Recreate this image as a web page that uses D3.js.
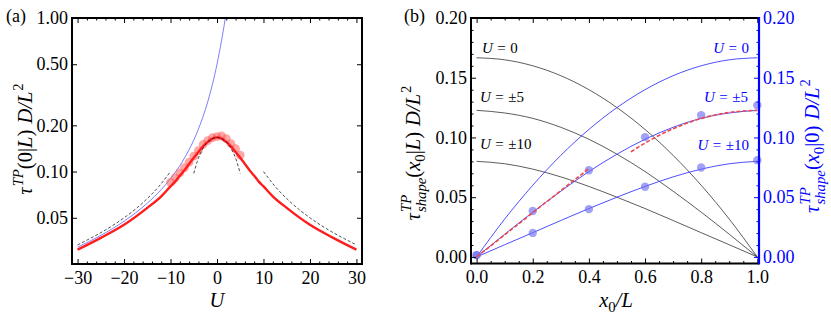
<!DOCTYPE html>
<html>
<head>
<meta charset="utf-8">
<script src="https://cdn.jsdelivr.net/npm/d3@7"></script>
<style>
  body { margin: 0; background: #fff; }
  svg { display: block; }
  text { font-family: "Liberation Serif", "Times New Roman", serif; }
</style>
</head>
<body>
<svg id="chart" width="831" height="320"></svg>
<script>
// ---- panel (a): tau^TP(0|L) vs U ----
const uRed = [-30, -25, -20, -15, -12, -10, -9, -8, -7, -6, -5, -4, -3, -2, -1, 0, 1, 2, 3, 4, 5, 6, 7, 8, 9, 10, 12, 15, 20, 25, 30];
const tauRed = [0.031, 0.037, 0.045, 0.058, 0.069, 0.080, 0.086, 0.094, 0.102, 0.112, 0.123, 0.134, 0.146, 0.156, 0.164, 0.167,
                0.164, 0.156, 0.146, 0.134, 0.123, 0.112, 0.102, 0.094, 0.086, 0.080, 0.069, 0.058, 0.045, 0.037, 0.031];
const uBlue = [-30, -25, -20, -15, -12, -10, -9, -8, -7, -6, -5, -4, -3, -2, -1, -0.5, 0, 0.5, 1, 1.5, 1.8];
const tauBlue = [0.0322, 0.0384, 0.0475, 0.0622, 0.0764, 0.090, 0.0988, 0.109, 0.1225, 0.139, 0.160, 0.189, 0.228, 0.284, 0.368, 0.426, 0.5, 0.595, 0.718, 0.881, 1.003];
const uDots = [-10, -9, -8, -7, -6, -5, -4, -3, -2, -1, 0, 1, 2, 3, 4, 5];
const tauDots = [0.085, 0.091, 0.098, 0.106, 0.115, 0.126, 0.137, 0.150, 0.159, 0.166, 0.169, 0.171, 0.164, 0.152, 0.141, 0.128];
const uAsymL = [-30, -27.5, -25, -22.5, -20, -17.5, -15, -12.5, -10];
const tauAsymL = [0.0333, 0.0364, 0.040, 0.0444, 0.050, 0.0571, 0.0667, 0.080, 0.100];
const uAsymR = [10, 12.5, 15, 17.5, 20, 22.5, 25, 27.5, 30];
const tauAsymR = [0.100, 0.080, 0.0667, 0.0571, 0.050, 0.0444, 0.040, 0.0364, 0.0333];
const uSmall = [-5, -4, -3, -2, -1, 0, 1, 2, 3, 4, 5];
const tauSmall = [0.0972, 0.1222, 0.1417, 0.1556, 0.1639, 0.1667, 0.1639, 0.1556, 0.1417, 0.1222, 0.0972];
const xTicksA = [-30, -20, -10, 0, 10, 20, 30];
const yTicksA = [0.05, 0.1, 0.2, 0.5, 1];

// ---- panel (b): shape functions vs x0/L ----
const x0 = [0, 0.1, 0.2, 0.3, 0.4, 0.5, 0.6, 0.7, 0.8, 0.9, 1];
const blackU0 = [0.1667, 0.165, 0.160, 0.1517, 0.140, 0.125, 0.1067, 0.085, 0.060, 0.0317, 0];
const blackU5 = [0.1227, 0.1205, 0.116, 0.1085, 0.0985, 0.086, 0.0715, 0.055, 0.0375, 0.019, 0];
const blackU10 = [0.080, 0.078, 0.0735, 0.067, 0.059, 0.050, 0.0405, 0.0305, 0.0203, 0.0102, 0];
const blueU0 = [0, 0.0317, 0.060, 0.085, 0.1067, 0.125, 0.140, 0.1517, 0.160, 0.165, 0.1667];
const blueU5 = [0, 0.019, 0.0375, 0.055, 0.0715, 0.086, 0.0985, 0.1085, 0.116, 0.1205, 0.1227];
const blueU10 = [0, 0.0102, 0.0203, 0.0305, 0.0405, 0.050, 0.059, 0.067, 0.0735, 0.078, 0.080];
const xDots = [0, 0.2, 0.4, 0.6, 0.8, 1];
const dotsU5 = [0.0015, 0.0385, 0.0726, 0.1003, 0.1187, 0.127];
const dotsU10 = [0.0015, 0.0201, 0.040, 0.0587, 0.0749, 0.081];
const xRedLo = [0, 0.1, 0.2, 0.3, 0.4];
const redLo = [0, 0.0185, 0.037, 0.0555, 0.074];
const xRedHi = [0.55, 0.6, 0.7, 0.8, 0.9, 1];
const redHi = [0.088, 0.0953, 0.1073, 0.1159, 0.121, 0.1227];
const xTicksB = [0, 0.2, 0.4, 0.6, 0.8, 1];
const yTicksB = [0, 0.05, 0.1, 0.15, 0.2];

const svg = d3.select('#chart');
const FS = 18;   // tick labels
const LS = 20.5; // axis titles

// lay out italic / sub / superscript runs as separate text pieces
function rich(parent, runs, x, y, opts) {
  const g = parent.append('g')
    .attr('transform', `translate(${x},${y})` + (opts.rotate ? ` rotate(${opts.rotate})` : ''));
  let cx = 0, lastStart = 0, lastEnd = 0;
  runs.forEach(r => {
    const t = g.append('text').text(r.t)
      .attr('font-size', (r.s || 1) * opts.size)
      .attr('font-style', r.i ? 'italic' : 'normal')
      .attr('fill', opts.fill || '#000')
      .attr('y', (r.dy || 0) * opts.size);
    const start = r.stack ? lastStart : cx;
    t.attr('x', start);
    const w = t.node().getComputedTextLength();
    if (r.stack) {
      cx = Math.max(lastEnd, start + w) + (r.gap || 0) * opts.size;
    } else {
      lastStart = start; lastEnd = start + w;
      cx = start + w + (r.gap || 0) * opts.size;
    }
  });
  const shift = opts.anchor === 'middle' ? -cx / 2 : opts.anchor === 'end' ? -cx : 0;
  g.selectAll('text').attr('x', function () { return +this.getAttribute('x') + shift; });
  return g;
}

function styleAxis(sel, color, fs) {
  sel.select('.domain').remove();
  sel.selectAll('line').attr('stroke', color).attr('stroke-width', 1);
  sel.selectAll('text').attr('fill', color).attr('font-size', fs)
    .attr('font-family', '"Liberation Serif", serif');
}

// ================= panel (a) =================
const xA = d3.scaleLinear().domain([-31.2, 31.2]).range([72, 362]);
const yA = d3.scaleLog().domain([0.025, 1]).range([264, 18]);
const minorA = d3.range(-30, 31, 2).filter(v => v % 10 !== 0);

svg.append('clipPath').attr('id', 'clipA').append('rect')
  .attr('x', 72).attr('y', 18).attr('width', 290).attr('height', 246);

const lineA = (us, vs) => d3.line().x((d, i) => xA(us[i])).y(d => yA(d)).curve(d3.curveMonotoneX)(vs);

const gA = svg.append('g').attr('clip-path', 'url(#clipA)');
gA.append('path').attr('d', lineA(uBlue, tauBlue)).attr('fill', 'none')
  .attr('stroke', '#6f6fff').attr('stroke-width', 0.9);
gA.selectAll('circle.dA').data(tauDots).join('circle')
  .attr('cx', (d, i) => xA(uDots[i])).attr('cy', d => yA(d)).attr('r', 4.4)
  .attr('fill', 'rgba(255,80,80,0.5)');
gA.append('path').attr('d', lineA(uRed, tauRed)).attr('fill', 'none')
  .attr('stroke', '#ff1c1c').attr('stroke-width', 2.4);
[[uAsymL, tauAsymL], [uAsymR, tauAsymR], [uSmall, tauSmall]].forEach(([us, vs]) => {
  gA.append('path').attr('d', lineA(us, vs)).attr('fill', 'none')
    .attr('stroke', '#222').attr('stroke-width', 0.8).attr('stroke-dasharray', '3,2');
});

// ticks (inward, mirrored)
styleAxis(svg.append('g').attr('transform', 'translate(0,264)')
  .call(d3.axisBottom(xA).tickValues(xTicksA).tickSize(-5).tickPadding(7)
    .tickFormat(d => d < 0 ? '\u2212' + (-d) : d)), '#000', FS);
styleAxis(svg.append('g').attr('transform', 'translate(0,264)')
  .call(d3.axisBottom(xA).tickValues(minorA).tickSize(-2.5).tickFormat('')), '#000', FS);
styleAxis(svg.append('g').attr('transform', 'translate(0,18)')
  .call(d3.axisTop(xA).tickValues(xTicksA).tickSize(-5).tickFormat('')), '#000', FS);
styleAxis(svg.append('g').attr('transform', 'translate(0,18)')
  .call(d3.axisTop(xA).tickValues(minorA).tickSize(-2.5).tickFormat('')), '#000', FS);
styleAxis(svg.append('g').attr('transform', 'translate(72,0)')
  .call(d3.axisLeft(yA).tickValues(yTicksA).tickSize(-5).tickPadding(4).tickFormat(d3.format('.2f'))), '#000', FS);
styleAxis(svg.append('g').attr('transform', 'translate(362,0)')
  .call(d3.axisRight(yA).tickValues(yTicksA).tickSize(-5).tickFormat('')), '#000', FS);

svg.append('rect').attr('x', 72).attr('y', 18).attr('width', 290).attr('height', 246)
  .attr('fill', 'none').attr('stroke', '#000').attr('stroke-width', 2);

rich(svg, [{ t: 'U', i: 1 }], 217, 307, { size: LS, anchor: 'middle' });
rich(svg, [
  { t: 'τ', i: 1, gap: 0.05 }, { t: 'TP', i: 1, s: 0.72, dy: -0.45 }, { t: '(0|' }, { t: 'L', i: 1 }, { t: ')', gap: 0.3 },
  { t: 'D', i: 1 }, { t: '/', i: 1 }, { t: 'L', i: 1, gap: 0.05 }, { t: '2', s: 0.72, dy: -0.45 }
], 32, 139, { size: LS, anchor: 'middle', rotate: -90 });
svg.append('text').text('(a)').attr('x', 6).attr('y', 22).attr('font-size', FS);

// ================= panel (b) =================
const xB = d3.scaleLinear().domain([-0.02, 1.006]).range([471, 759]);
const yB = d3.scaleLinear().domain([-0.0055, 0.2]).range([263.5, 18]);
const lineB = (xs, vs) => d3.line().x((d, i) => xB(xs[i])).y(d => yB(d)).curve(d3.curveMonotoneX)(vs);

const gB = svg.append('g');
[blackU0, blackU5, blackU10].forEach(vs => {
  gB.append('path').attr('d', lineB(x0, vs)).attr('fill', 'none')
    .attr('stroke', '#333').attr('stroke-width', 0.8);
});
[blueU0, blueU5, blueU10].forEach(vs => {
  gB.append('path').attr('d', lineB(x0, vs)).attr('fill', 'none')
    .attr('stroke', '#3a3aff').attr('stroke-width', 0.9);
});
[dotsU5, dotsU10].forEach(vs => {
  gB.selectAll(null).data(vs).join('circle')
    .attr('cx', (d, i) => xB(xDots[i])).attr('cy', d => yB(d)).attr('r', 4.2)
    .attr('fill', 'rgba(110,110,240,0.65)');
});
[[xRedLo, redLo], [xRedHi, redHi]].forEach(([xs, vs]) => {
  gB.append('path').attr('d', lineB(xs, vs)).attr('fill', 'none')
    .attr('stroke', '#f04848').attr('stroke-width', 1.6).attr('stroke-dasharray', '4,2');
});

const minorBx = d3.range(0.05, 1, 0.05).filter(v => Math.abs(v * 5 - Math.round(v * 5)) > 1e-6);
const minorBy = d3.range(0.01, 0.2, 0.01).filter(v => Math.abs(v * 20 - Math.round(v * 20)) > 1e-6);

styleAxis(svg.append('g').attr('transform', 'translate(0,263.5)')
  .call(d3.axisBottom(xB).tickValues(xTicksB).tickSize(-5).tickPadding(7).tickFormat(d3.format('.1f'))), '#000', FS);
styleAxis(svg.append('g').attr('transform', 'translate(0,263.5)')
  .call(d3.axisBottom(xB).tickValues(minorBx).tickSize(-2.5).tickFormat('')), '#000', FS);
styleAxis(svg.append('g').attr('transform', 'translate(0,18)')
  .call(d3.axisTop(xB).tickValues(xTicksB).tickSize(-5).tickFormat('')), '#000', FS);
styleAxis(svg.append('g').attr('transform', 'translate(0,18)')
  .call(d3.axisTop(xB).tickValues(minorBx).tickSize(-2.5).tickFormat('')), '#000', FS);
styleAxis(svg.append('g').attr('transform', 'translate(471,0)')
  .call(d3.axisLeft(yB).tickValues(yTicksB).tickSize(-5).tickPadding(4).tickFormat(d3.format('.2f'))), '#000', FS);
styleAxis(svg.append('g').attr('transform', 'translate(471,0)')
  .call(d3.axisLeft(yB).tickValues(minorBy).tickSize(-2.5).tickFormat('')), '#000', FS);
styleAxis(svg.append('g').attr('transform', 'translate(759,0)')
  .call(d3.axisRight(yB).tickValues(yTicksB).tickSize(-5).tickPadding(4).tickFormat(d3.format('.2f'))), '#0000ff', FS);
styleAxis(svg.append('g').attr('transform', 'translate(759,0)')
  .call(d3.axisRight(yB).tickValues(minorBy).tickSize(-2.5).tickFormat('')), '#0000ff', FS);

svg.append('line').attr('x1', 471).attr('x2', 759).attr('y1', 18).attr('y2', 18).attr('stroke', '#000').attr('stroke-width', 2);
svg.append('line').attr('x1', 471).attr('x2', 759).attr('y1', 263.5).attr('y2', 263.5).attr('stroke', '#000').attr('stroke-width', 2);
svg.append('line').attr('x1', 471).attr('x2', 471).attr('y1', 17).attr('y2', 264.5).attr('stroke', '#000').attr('stroke-width', 2);
svg.append('line').attr('x1', 759).attr('x2', 759).attr('y1', 17).attr('y2', 264.5).attr('stroke', '#0000ff').attr('stroke-width', 2.2);

// curve labels
const labelsB = [
  { u: '0', y: 53, c: '#000', x: 482, a: 'start' },
  { u: '±5', y: 101.5, c: '#000', x: 480, a: 'start' },
  { u: '±10', y: 149, c: '#000', x: 480, a: 'start' },
  { u: '0', y: 53, c: '#0000ff', x: 749, a: 'end' },
  { u: '±5', y: 101.5, c: '#0000ff', x: 748, a: 'end' },
  { u: '±10', y: 150, c: '#0000ff', x: 749, a: 'end' }
];
labelsB.forEach(l => {
  rich(svg, [{ t: 'U', i: 1, gap: 0.3 }, { t: '=', gap: 0.3 }, { t: l.u }], l.x, l.y,
    { size: 15, anchor: l.a, fill: l.c });
});

rich(svg, [{ t: 'x', i: 1 }, { t: '0', s: 0.72, dy: 0.25 }, { t: '/', i: 1 }, { t: 'L', i: 1 }],
  616, 307, { size: LS, anchor: 'middle' });
rich(svg, [
  { t: 'τ', i: 1, gap: 0.05 }, { t: 'TP', i: 1, s: 0.72, dy: -0.45 }, { t: 'shape', i: 1, s: 0.72, dy: 0.3, stack: 1 },
  { t: '(' }, { t: 'x', i: 1 }, { t: '0', s: 0.72, dy: 0.25 }, { t: '|' }, { t: 'L', i: 1 }, { t: ')', gap: 0.3 },
  { t: 'D', i: 1 }, { t: '/', i: 1 }, { t: 'L', i: 1, gap: 0.05 }, { t: '2', s: 0.72, dy: -0.45 }
], 420, 153, { size: LS, anchor: 'middle', rotate: -90 });
rich(svg, [
  { t: 'τ', i: 1, gap: 0.05 }, { t: 'TP', i: 1, s: 0.72, dy: -0.45 }, { t: 'shape', i: 1, s: 0.72, dy: 0.3, stack: 1 },
  { t: '(' }, { t: 'x', i: 1 }, { t: '0', s: 0.72, dy: 0.25 }, { t: '|0)', gap: 0.3 },
  { t: 'D', i: 1 }, { t: '/', i: 1 }, { t: 'L', i: 1, gap: 0.05 }, { t: '2', s: 0.72, dy: -0.45 }
], 819, 146, { size: LS, anchor: 'middle', rotate: -90, fill: '#0000ff' });
svg.append('text').text('(b)').attr('x', 404).attr('y', 22).attr('font-size', FS);
</script>
</body>
</html>
